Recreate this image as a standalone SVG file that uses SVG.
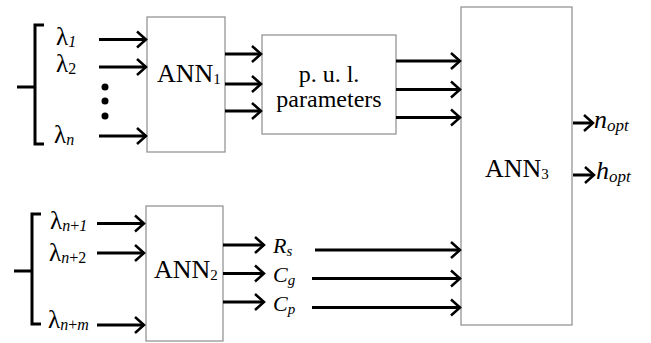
<svg xmlns="http://www.w3.org/2000/svg" width="651" height="343" viewBox="0 0 651 343">
<style>
.box{fill:#fff;stroke:#8c8c8c;stroke-width:1.2}
.ln{stroke:#000;stroke-width:3;fill:none}
.br{stroke:#000;stroke-width:3;fill:none}
text{font-family:"Liberation Serif","Times New Roman",serif;fill:#000}
.lam{font-size:25px}
.sub{font-size:16px;font-style:italic}
.subr{font-size:16px}
.ann{font-size:26px}
.annsub{font-size:15px}
.pul{font-size:24px}
.var{font-size:22px;font-style:italic}
.vsub{font-size:15px;font-style:italic}
.out{font-size:26px;font-style:italic}
.osub{font-size:17px;font-style:italic}
</style>
<defs>
<marker id="ah" markerUnits="userSpaceOnUse" markerWidth="14" markerHeight="20" viewBox="-12 -10 14 20" refX="0" refY="0" orient="auto">
<path d="M-9,-8 L0,0 L-9,8" fill="none" stroke="#000" stroke-width="2.5"/>
</marker>
</defs>

<g id="input-bracket-1">
<path class="br" d="M44,25 L35,25 L35,144 L44,144 M17,87 L35,87"/>
<text class="lam" x="56" y="45">λ<tspan class="sub" dy="2">1</tspan></text>
<text class="lam" x="56" y="72">λ<tspan class="subr" dy="2">2</tspan></text>
<circle cx="105" cy="87" r="3.5"/>
<circle cx="105" cy="101" r="3.5"/>
<circle cx="105" cy="116" r="3.5"/>
<text class="lam" x="54" y="143">λ<tspan class="sub" dy="2">n</tspan></text>
</g>

<g id="input-bracket-2">
<path class="br" d="M41,214 L32,214 L32,324 L41,324 M14,271 L32,271"/>
<text class="lam" x="50" y="229">λ<tspan class="sub" dy="2">n</tspan><tspan class="subr">+</tspan><tspan class="sub">1</tspan></text>
<text class="lam" x="49" y="261">λ<tspan class="sub" dy="2">n</tspan><tspan class="subr">+2</tspan></text>
<text class="lam" x="48" y="328">λ<tspan class="sub" dy="2">n</tspan><tspan class="subr">+</tspan><tspan class="sub">m</tspan></text>
</g>

<g id="ann1">
<rect class="box" x="147" y="17" width="78" height="135"/>
<text class="ann" x="157" y="82">ANN<tspan class="annsub" dy="2">1</tspan></text>
</g>

<g id="pul">
<rect class="box" x="262" y="35" width="134" height="99"/>
<text class="pul" x="329" y="82" text-anchor="middle">p. u. l.</text>
<text class="pul" x="329" y="107" text-anchor="middle">parameters</text>
</g>

<g id="ann2">
<rect class="box" x="146" y="206" width="77" height="135"/>
<text class="ann" x="154" y="278">ANN<tspan class="annsub" dy="2">2</tspan></text>
</g>

<g id="ann3">
<rect class="box" x="461" y="7" width="111" height="318"/>
<text class="ann" x="485" y="177">ANN<tspan class="annsub" dy="2">3</tspan></text>
</g>

<g id="labels">
<text class="var" x="273" y="253">R<tspan class="vsub" dy="3">s</tspan></text>
<text class="var" x="273" y="282">C<tspan class="vsub" dy="3">g</tspan></text>
<text class="var" x="273" y="311">C<tspan class="vsub" dy="3">p</tspan></text>
<text class="out" x="594" y="128">n<tspan class="osub" dy="3">opt</tspan></text>
<text class="out" x="596" y="179">h<tspan class="osub" dy="3">opt</tspan></text>
</g>

<g id="connectors">
<path class="ln" marker-end="url(#ah)" d="M99,39.5 L146,39.5"/>
<path class="ln" marker-end="url(#ah)" d="M99,67 L146,67"/>
<path class="ln" marker-end="url(#ah)" d="M99,136 L146,136"/>
<path class="ln" marker-end="url(#ah)" d="M225,54 L261,54"/>
<path class="ln" marker-end="url(#ah)" d="M225,84 L261,84"/>
<path class="ln" marker-end="url(#ah)" d="M225,111 L261,111"/>
<path class="ln" marker-end="url(#ah)" d="M396,61 L460,61"/>
<path class="ln" marker-end="url(#ah)" d="M396,89.5 L460,89.5"/>
<path class="ln" marker-end="url(#ah)" d="M396,117.5 L460,117.5"/>
<path class="ln" marker-end="url(#ah)" d="M97,223.5 L144,223.5"/>
<path class="ln" marker-end="url(#ah)" d="M97,253 L144,253"/>
<path class="ln" marker-end="url(#ah)" d="M97,325 L144,325"/>
<path class="ln" marker-end="url(#ah)" d="M223,245 L264,245"/>
<path class="ln" marker-end="url(#ah)" d="M223,273.5 L264,273.5"/>
<path class="ln" marker-end="url(#ah)" d="M223,302 L264,302"/>
<path class="ln" marker-end="url(#ah)" d="M315,250 L460,250"/>
<path class="ln" marker-end="url(#ah)" d="M312,278.5 L460,278.5"/>
<path class="ln" marker-end="url(#ah)" d="M312,307.5 L460,307.5"/>
<path class="ln" marker-end="url(#ah)" d="M573,123 L593,123"/>
<path class="ln" marker-end="url(#ah)" d="M573,175 L594,175"/>
</g>
</svg>
